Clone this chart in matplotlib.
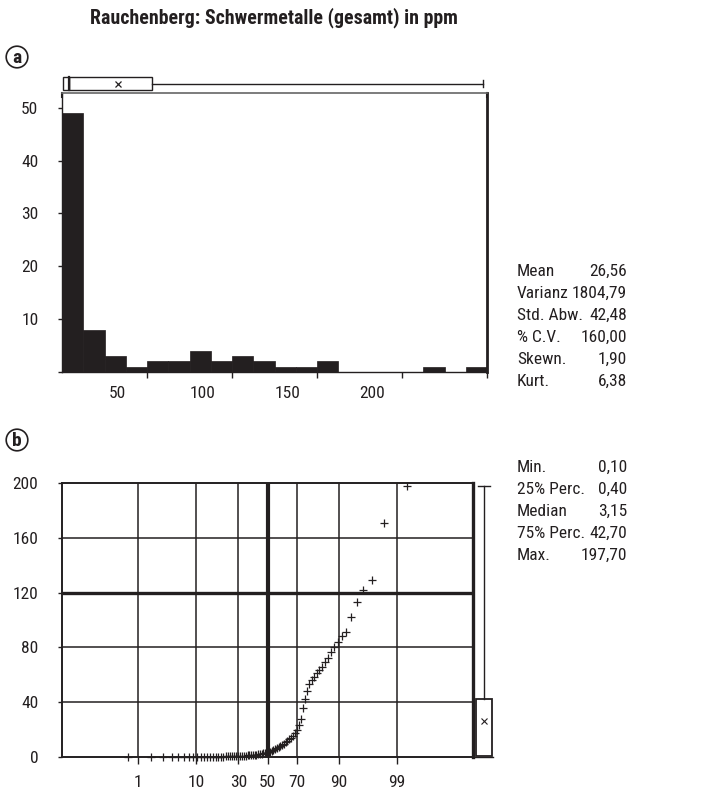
import numpy as np
import matplotlib
matplotlib.use("Agg")
import matplotlib.pyplot as plt
from matplotlib.patches import Rectangle, Circle
from statistics import NormalDist

plt.rcParams['font.family'] = ['Roboto Condensed', 'Liberation Sans', 'DejaVu Sans']

# ---------------- data ----------------
title = "Rauchenberg: Schwermetalle (gesamt) in ppm"

# histogram (panel a)
hist_counts = [49, 8, 3, 1, 2, 2, 4, 2, 3, 2, 1, 1, 2, 0, 0, 0, 0, 1, 0, 1]
hist_range = (0, 250)
hist_ytick_vals = [10, 20, 30, 40, 50]
hist_xtick_marks = [50, 100, 150, 200, 250]
hist_xlabel_pos = [32.4, 82.4, 132.4, 182.4]
hist_xlabels = ["50", "100", "150", "200"]

# box plot above histogram (in histogram axis units)
box_a_lo, box_a_q1, box_a_mean, box_a_q3, box_a_hi = 0.4, 4.1, 33.1, 53.1, 247.5

# probability plot (panel b): sorted values
prob_values = [
    0.10, 0.12, 0.13, 0.15, 0.16, 0.18, 0.20, 0.22, 0.24, 0.25,
    0.27, 0.28, 0.30, 0.31, 0.32, 0.34, 0.35, 0.36, 0.38, 0.39,
    0.40, 0.45, 0.50, 0.58, 0.65, 0.72, 0.80, 0.90, 1.00, 1.10,
    1.20, 1.35, 1.50, 1.65, 1.80, 2.00, 2.20, 2.45, 2.70, 2.90,
    3.00, 3.30, 3.80, 4.50, 5.00, 5.80, 6.50, 7.20, 8.00, 9.00,
    9.80, 10.80, 11.80, 12.80, 14.00, 15.50, 17.50, 20.00, 23.00, 28.00,
    36.00, 42.70, 48.50, 53.00, 56.00, 58.50, 61.00, 63.50, 66.00, 69.00,
    72.50, 76.50, 80.00, 84.00, 88.00, 91.00, 102.00, 113.00, 122.00, 129.00,
    171.00, 197.70,
]
prob_pct_ticks = [1, 10, 30, 50, 70, 90, 99]
prob_ytick_vals = [0, 40, 80, 120, 160, 200]

# box plot right of panel b
box_b_min, box_b_q1, box_b_mean, box_b_q3, box_b_max = 0.10, 0.40, 26.56, 42.70, 197.70

stats1_labels = ["Mean", "Varianz", "Std. Abw.", "% C.V.", "Skewn.", "Kurt."]
stats1_values = ["26,56", "1804,79", "42,48", "160,00", "1,90", "6,38"]
stats2_labels = ["Min.", "25% Perc.", "Median", "75% Perc.", "Max."]
stats2_values = ["0,10", "0,40", "3,15", "42,70", "197,70"]

# ---------------- figure ----------------
W, H = 716, 792
fig = plt.figure(figsize=(W / 100, H / 100), dpi=100)
ink = '#231f20'


def rect(l, t, r, b):
    return [l / W, 1 - b / H, (r - l) / W, (b - t) / H]


fs = 12.5

fig.text(90 / W, 1 - 18 / H, title, fontsize=14.3, fontweight='bold',
         ha='left', va='center', color=ink)

# ---- panel a: histogram ----
axa = fig.add_axes(rect(62, 93, 487, 372))
edges = np.linspace(hist_range[0], hist_range[1], len(hist_counts) + 1)
axa.bar(edges[:-1], hist_counts, width=np.diff(edges), align='edge',
        color=ink, edgecolor=ink, lw=0.5)
axa.set_xlim(hist_range)
axa.set_ylim(0, 52.8)
axa.set_yticks([0] + hist_ytick_vals)
axa.set_yticklabels([""] + [str(v) for v in hist_ytick_vals])
axa.tick_params(axis='y', length=3, width=1, pad=14, labelsize=fs, colors=ink)
axa.set_xticks(hist_xtick_marks)
axa.set_xticklabels([""] * len(hist_xtick_marks))
axa.set_xticks(hist_xlabel_pos, minor=True)
axa.set_xticklabels(hist_xlabels, minor=True)
axa.tick_params(axis='x', which='major', length=4, width=1, direction='out', colors=ink)
axa.tick_params(axis='x', which='minor', length=0, pad=10, labelsize=fs, labelcolor=ink)
for s in ['left', 'bottom']:
    axa.spines[s].set_color(ink)
    axa.spines[s].set_linewidth(1.0)
axa.spines['right'].set_color(ink)
axa.spines['right'].set_linewidth(2.0)
axa.spines['top'].set_color('#666666')
axa.spines['top'].set_linewidth(1.2)
axa.plot([0, 0], [1, 0.985], transform=axa.transAxes, color=ink, lw=1.5, clip_on=False)
axa.plot([1, 1], [1, 0.985], transform=axa.transAxes, color=ink, lw=1.5, clip_on=False)

# box plot above histogram
axab = fig.add_axes(rect(62, 74, 487, 93))
axab.set_xlim(hist_range)
axab.set_ylim(0, 1)
axab.axis('off')
by0, by1 = 0.15, 0.85
axab.add_patch(Rectangle((box_a_lo, by0), box_a_q1 - box_a_lo, by1 - by0,
                         fill=False, ec=ink, lw=1.0))
axab.add_patch(Rectangle((box_a_q1, by0), box_a_q3 - box_a_q1, by1 - by0,
                         fill=False, ec=ink, lw=1.0))
axab.plot([box_a_q1, box_a_q1], [by0, by1], color=ink, lw=1.6)
axab.plot([box_a_mean], [(by0 + by1) / 2], marker='x', ms=5, mew=0.9, color=ink, ls='none')
axab.plot([box_a_q3, box_a_hi], [(by0 + by1) / 2] * 2, color=ink, lw=1.0)
axab.plot([box_a_hi, box_a_hi], [0.33, 0.67], color=ink, lw=1.0)

# ---- panel b: probability plot ----
axb = fig.add_axes(rect(62, 483, 473, 757))
n = len(prob_values)
nd = NormalDist()
px = [nd.inv_cdf((i + 0.5) / n) for i in range(n)]
tick_x = [nd.inv_cdf(p / 100) for p in prob_pct_ticks]
axb.set_xlim(-3.69, 3.69)
axb.set_ylim(0, 200)
for v in prob_ytick_vals[1:-1]:
    axb.axhline(v, color=ink, lw=2.4 if v == 120 else 1.1, zorder=1)
for p, xv in zip(prob_pct_ticks, tick_x):
    axb.axvline(xv, color=ink, lw=3.0 if p == 50 else 1.1, zorder=1)
axb.plot(px, prob_values, ls='none', marker='+', ms=6, mew=0.9, color=ink, zorder=3,
         clip_on=False)
axb.set_xticks(tick_x)
axb.set_xticklabels([str(p) for p in prob_pct_ticks])
axb.set_yticks(prob_ytick_vals)
axb.set_yticklabels([str(v) for v in prob_ytick_vals])
axb.tick_params(axis='x', length=5, width=1, pad=8, labelsize=fs, colors=ink)
axb.tick_params(axis='y', length=3, width=1, pad=14, labelsize=fs, colors=ink)
for s in ['left', 'bottom', 'top']:
    axb.spines[s].set_color(ink)
    axb.spines[s].set_linewidth(1.4)
axb.spines['right'].set_color(ink)
axb.spines['right'].set_linewidth(2.4)

# box plot right of panel b
axbb = fig.add_axes(rect(474, 483, 494, 757))
axbb.set_xlim(0, 1)
axbb.set_ylim(0, 200)
axbb.axis('off')
axbb.add_patch(Rectangle((0.1, box_b_q1), 0.8, box_b_q3 - box_b_q1,
                         fill=False, ec=ink, lw=1.3))
axbb.plot([0.5, 0.5], [box_b_q3, box_b_max], color=ink, lw=1.0)
axbb.plot([0.2, 0.8], [box_b_max, box_b_max], color=ink, lw=1.0)
axbb.plot([0.05, 0.95], [box_b_min, box_b_min], color=ink, lw=1.0, clip_on=False)
axbb.plot([0.5], [box_b_mean], marker='x', ms=4, mew=0.8, color=ink, ls='none')

# ---- statistics text ----
lx, rx = 517, 627
for k, (lab, val) in enumerate(zip(stats1_labels, stats1_values)):
    y = 271 + 22 * k
    fig.text(lx / W, 1 - y / H, lab, fontsize=fs, ha='left', va='center', color=ink)
    fig.text(rx / W, 1 - y / H, val, fontsize=fs, ha='right', va='center', color=ink)
for k, (lab, val) in enumerate(zip(stats2_labels, stats2_values)):
    y = 467 + 22 * k
    fig.text(lx / W, 1 - y / H, lab, fontsize=fs, ha='left', va='center', color=ink)
    fig.text(rx / W, 1 - y / H, val, fontsize=fs, ha='right', va='center', color=ink)

# circled panel letters
for (x, y, s) in [(17, 57, 'a'), (17, 440, 'b')]:
    axc = fig.add_axes(rect(x - 12, y - 12, x + 12, y + 12))
    axc.set_xlim(-1, 1)
    axc.set_ylim(-1, 1)
    axc.axis('off')
    axc.add_patch(Circle((0, 0), 0.9, fill=False, ec=ink, lw=1.2))
    axc.text(0, -0.05, s, fontsize=14, fontweight='bold', ha='center', va='center', color=ink)

fig.savefig("out.png", dpi=100)
